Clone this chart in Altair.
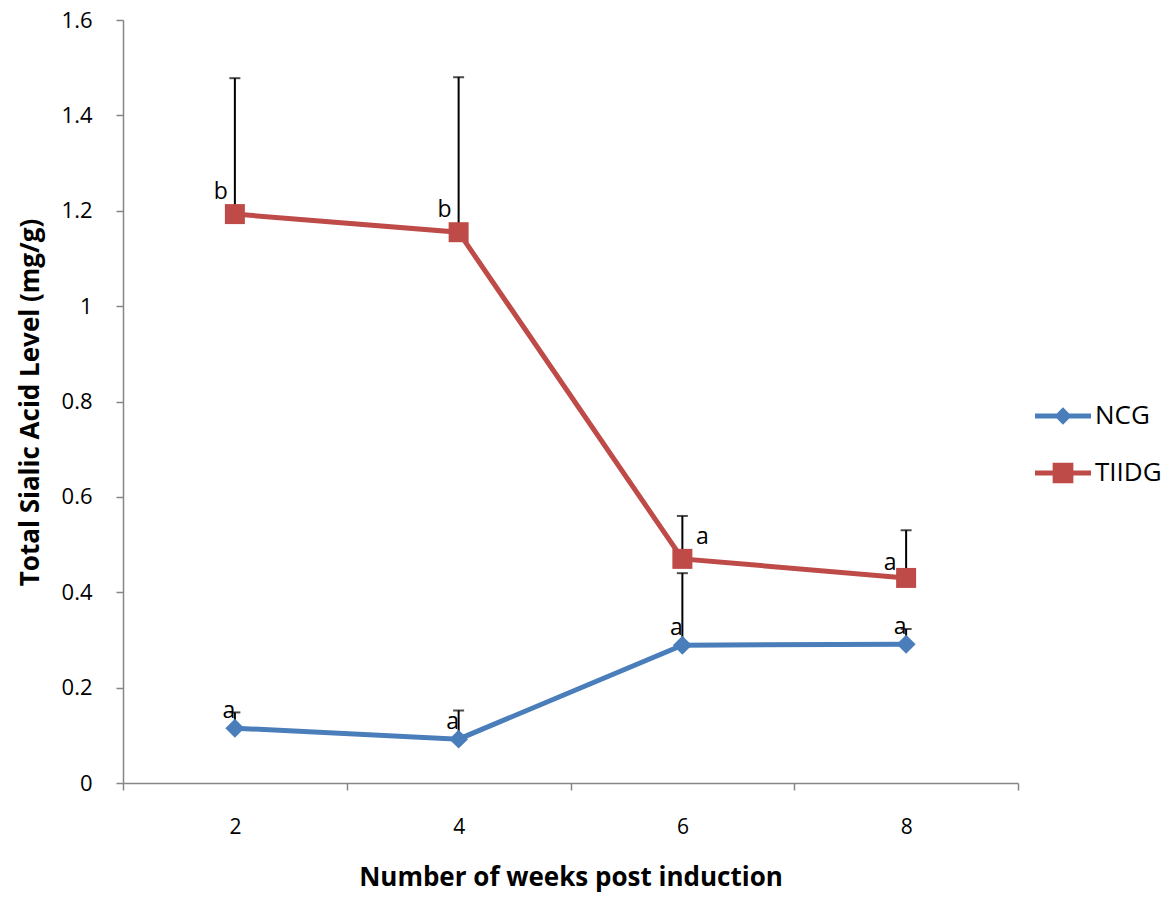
import altair as alt
import pandas as pd

weeks = [2, 4, 6, 8]
groups = ["NCG", "TIIDG"]
ncg_mean = [0.115, 0.092, 0.289, 0.291]
ncg_err = [0.033, 0.060, 0.151, 0.032]
tiidg_mean = [1.193, 1.155, 0.470, 0.430]
tiidg_err = [0.285, 0.325, 0.090, 0.100]
ncg_letters = ["a", "a", "a", "a"]
tiidg_letters = ["b", "b", "a", "a"]

rows = []
for i, w in enumerate(weeks):
    rows.append({"week": w, "group": "NCG", "mean": ncg_mean[i],
                 "top": ncg_mean[i] + ncg_err[i], "letter": ncg_letters[i]})
    rows.append({"week": w, "group": "TIIDG", "mean": tiidg_mean[i],
                 "top": tiidg_mean[i] + tiidg_err[i], "letter": tiidg_letters[i]})
df = pd.DataFrame(rows)

colors = ["#4A7EBB", "#BE4B48"]
FONT = "Open Sans"

# legend symbols: line + marker as custom paths
ncg_path = "M-1,-0.09L1,-0.09L1,0.09L-1,0.09Z M0,-0.31L0.31,0L0,0.31L-0.31,0Z"
tiidg_path = "M-1,-0.09L1,-0.09L1,0.09L-1,0.09Z M-0.37,-0.37L0.37,-0.37L0.37,0.37L-0.37,0.37Z"

x_enc = alt.X("week:Q",
              scale=alt.Scale(domain=[1, 9], nice=False, zero=False),
              axis=alt.Axis(values=[1, 2, 3, 4, 5, 6, 7, 8, 9],
                            format="d",
                            labelExpr="datum.value % 2 == 0 ? datum.label : ''",
                            tickOpacity={"condition": {"test": "datum.value % 2 == 1", "value": 1}, "value": 0},
                            title="Number of weeks post induction",
                            grid=False, domainColor="#868686", tickColor="#868686",
                            domainWidth=1.5, tickWidth=1.5, tickSize=7,
                            labelFont=FONT, labelFontSize=21, labelColor="#000000",
                            labelPadding=26,
                            titleFont=FONT, titleFontSize=26, titleFontWeight="bold",
                            titleColor="#000000", titleY=81))

y_scale = alt.Scale(domain=[0, 1.6], nice=False)
y_axis = alt.Axis(values=[0, 0.2, 0.4, 0.6, 0.8, 1.0, 1.2, 1.4, 1.6],
                  format=".1~f",
                  title="Total Sialic Acid Level (mg/g)",
                  grid=False, domainColor="#868686", tickColor="#868686",
                  domainWidth=1.5, tickWidth=1.5, tickSize=7,
                  labelFont=FONT, labelFontSize=22, labelColor="#000000",
                  labelPadding=24,
                  titleFont=FONT, titleFontSize=26, titleFontWeight="bold",
                  titleColor="#000000", titleX=-80, titleY=382)

color_scale = alt.Scale(domain=groups, range=colors)

base = alt.Chart(df)

leg = dict(title=None, orient="none", legendX=912, legendY=368,
           symbolSize=3136, symbolOpacity=1, symbolStrokeWidth=0,
           labelFont=FONT, labelFontSize=26, labelColor="#000000",
           labelOffset=4, rowPadding=16)
# invisible layer (size 0) that only carries the legend; placed first so its legend wins
legend_layer = base.mark_point(filled=True, strokeWidth=0).encode(
    x=x_enc, y=alt.Y("mean:Q", scale=y_scale, axis=y_axis),
    size=alt.value(0),
    color=alt.Color("group:N", scale=color_scale, legend=alt.Legend(**leg)),
    shape=alt.Shape("group:N", scale=alt.Scale(domain=groups, range=[ncg_path, tiidg_path]),
                    legend=alt.Legend(**leg)))

err_rule = base.mark_rule(color="black", strokeWidth=2).encode(
    x="week:Q", y="mean:Q", y2="top:Q")
err_cap = base.mark_tick(color="black", thickness=2, size=11, orient="horizontal").encode(
    x="week:Q", y="top:Q")

lines = base.mark_line(strokeWidth=5).encode(
    x="week:Q", y="mean:Q",
    color=alt.Color("group:N", scale=color_scale, legend=None),
    detail="group:N")

points = base.mark_point(filled=True, opacity=1, strokeWidth=0).encode(
    x="week:Q", y="mean:Q",
    color=alt.Color("group:N", scale=color_scale, legend=None),
    shape=alt.condition(alt.datum.group == "NCG", alt.value("diamond"), alt.value("square")),
    size=alt.condition(alt.datum.group == "NCG", alt.value(360), alt.value(400)))

txt_style = dict(font=FONT, fontSize=23, color="#000000", baseline="middle", align="center")
tiidg_left = base.transform_filter("datum.group == 'TIIDG' && datum.week != 6 && datum.week != 8").mark_text(
    dx=-14, dy=-22, **txt_style).encode(x="week:Q", y="mean:Q", text="letter:N")
tiidg_w8 = base.transform_filter("datum.group == 'TIIDG' && datum.week == 8").mark_text(
    dx=-16, dy=-15, **txt_style).encode(x="week:Q", y="mean:Q", text="letter:N")
tiidg_right = base.transform_filter("datum.group == 'TIIDG' && datum.week == 6").mark_text(
    dx=20, dy=-22, **txt_style).encode(x="week:Q", y="mean:Q", text="letter:N")
ncg_txt = base.transform_filter("datum.group == 'NCG'").mark_text(
    dx=-6, dy=-17, **txt_style).encode(x="week:Q", y="mean:Q", text="letter:N")

chart = alt.layer(legend_layer, err_rule, err_cap, lines, points,
                  tiidg_left, tiidg_w8, tiidg_right, ncg_txt).properties(
    width=895, height=763,
    autosize=alt.AutoSizeParams(type="none"),
    padding={"left": 123, "top": 20, "right": 157, "bottom": 116},
    background="white",
).configure_view(stroke=None)

chart.save("out.html", embed_options={"renderer": "svg", "actions": False})
